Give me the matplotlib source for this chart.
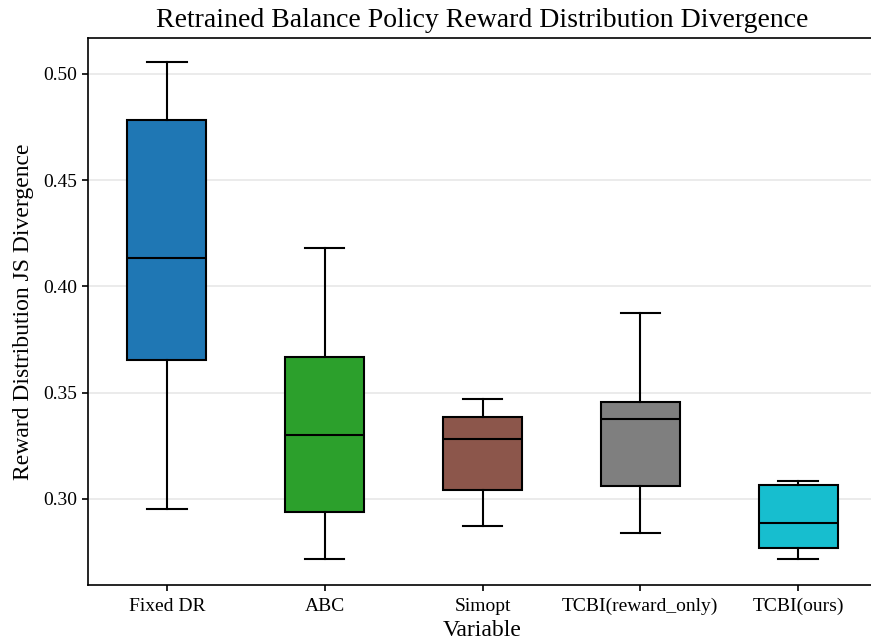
import matplotlib
matplotlib.use("Agg")
import matplotlib.pyplot as plt

categories = ["Fixed DR", "ABC", "Simopt", "TCBI(reward_only)", "TCBI(ours)"]
whislo = [0.2953, 0.2718, 0.2873, 0.2840, 0.2718]
q1 = [0.3654, 0.2939, 0.3042, 0.3061, 0.2770]
med = [0.4134, 0.3301, 0.3282, 0.3376, 0.2887]
q3 = [0.4784, 0.3668, 0.3386, 0.3456, 0.3066]
whishi = [0.5056, 0.4182, 0.3472, 0.3875, 0.3085]
colors = ["#1f77b4", "#2ca02c", "#8c564b", "#7f7f7f", "#17becf"]

plt.rcParams['font.family'] = ['Liberation Serif', 'DejaVu Serif']

fig = plt.figure(figsize=(8.71, 6.43), dpi=100)
ax = fig.add_axes([0.101, 0.0902, 0.906, 0.8507])

stats = []
for i, c in enumerate(categories):
    stats.append(dict(label=c, whislo=whislo[i], q1=q1[i], med=med[i],
                      q3=q3[i], whishi=whishi[i], fliers=[]))

bp = ax.bxp(stats, positions=range(len(categories)), widths=0.5, patch_artist=True,
            showfliers=False,
            boxprops=dict(linewidth=1.5, edgecolor='black'),
            medianprops=dict(color='black', linewidth=1.5),
            whiskerprops=dict(color='black', linewidth=1.5),
            capprops=dict(color='black', linewidth=1.5),
            capwidths=0.25)
for patch, col in zip(bp['boxes'], colors):
    patch.set_facecolor(col)

ax.set_xlim(-0.5, 4.5)
ax.set_ylim(0.2595, 0.5169)
ax.set_yticks([0.30, 0.35, 0.40, 0.45, 0.50])
ax.set_yticklabels(["0.30", "0.35", "0.40", "0.45", "0.50"])
ax.yaxis.grid(True, color='#e8e8e8', linewidth=1.2)
ax.set_axisbelow(True)
ax.tick_params(labelsize=14, length=4, width=1.2)
ax.tick_params(axis='x', pad=5)
for s in ax.spines.values():
    s.set_linewidth(1.2)

ax.set_xlabel("Variable", fontsize=17, labelpad=4)
ax.set_ylabel("Reward Distribution JS Divergence", fontsize=17, labelpad=7)
ax.set_title("Retrained Balance Policy Reward Distribution Divergence", fontsize=20, pad=8)

fig.savefig("out.png", dpi=100)
